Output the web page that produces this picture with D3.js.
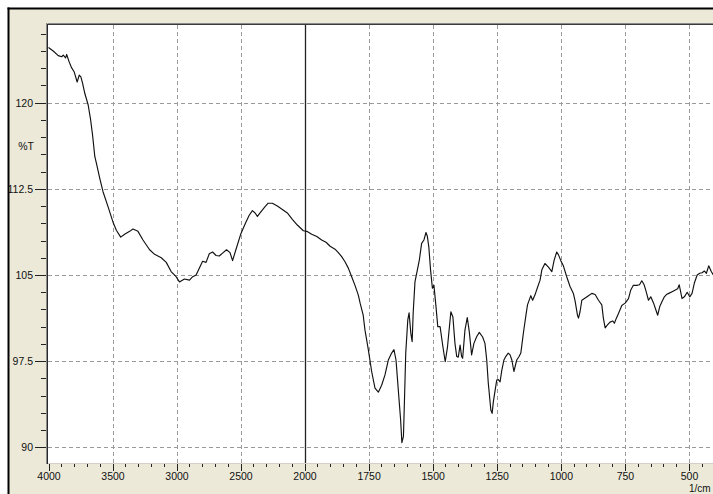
<!DOCTYPE html>
<html>
<head>
<meta charset="utf-8">
<script src="https://cdn.jsdelivr.net/npm/d3@7"></script>
<style>
  html, body { margin: 0; padding: 0; background: #ffffff; }
  svg { display: block; }
  .tick text { font-family: "Liberation Sans", Arial, sans-serif; font-size: 10.5px; fill: #111; }
</style>
</head>
<body>
<svg id="chart" width="713" height="494"></svg>
<script>
// IR spectrum: wavenumber (1/cm) and transmittance (%T)
const wavenumbers = [
  4000, 3963, 3924, 3897, 3885, 3866, 3858, 3840, 3820, 3800, 3776, 3760, 3747, 3734, 3716,
  3690, 3672, 3656, 3638, 3625, 3599, 3574, 3535, 3496, 3470, 3436, 3405, 3366, 3340, 3301,
  3262, 3210, 3171, 3119, 3080, 3042, 3003, 2977, 2938, 2899, 2873, 2847, 2821, 2796, 2769,
  2744, 2718, 2691, 2666, 2640, 2609, 2582, 2562, 2536, 2497, 2458, 2432, 2407, 2386, 2368,
  2341, 2308, 2284, 2251, 2212, 2173, 2134, 2095, 2056, 2009, 1991, 1972, 1952, 1933, 1916,
  1900, 1881, 1868, 1855, 1842, 1829, 1816, 1803, 1790, 1783, 1771, 1764, 1751, 1738, 1725,
  1712, 1699, 1686, 1673, 1660, 1651, 1643, 1638, 1632, 1625, 1620, 1614, 1610, 1605, 1597,
  1592, 1585, 1580, 1576, 1569, 1560, 1552, 1543, 1534, 1526, 1521, 1515, 1508, 1501, 1495,
  1487, 1480, 1471, 1460, 1451, 1442, 1429, 1421, 1413, 1406, 1400, 1393, 1387, 1383, 1374,
  1365, 1357, 1348, 1339, 1328, 1318, 1305, 1296, 1289, 1283, 1273, 1268, 1263, 1256, 1250,
  1244, 1237, 1231, 1222, 1215, 1205, 1198, 1191, 1183, 1172, 1163, 1156, 1146, 1136, 1130,
  1117, 1110, 1101, 1092, 1081, 1074, 1062, 1049, 1035, 1026, 1016, 1009, 1000, 990, 977,
  964, 951, 944, 935, 931, 925, 918, 905, 892, 879, 866, 853, 840, 834, 827,
  818, 808, 797, 791, 784, 775, 762, 749, 736, 727, 717, 704, 693, 684, 675,
  667, 658, 649, 638, 629, 622, 614, 605, 596, 588, 579, 566, 553, 544, 538,
  533, 527, 518, 507, 497, 488, 479, 468, 458, 449, 440, 432, 423, 413, 405
];
const transmittance = [
  124.8, 124.5, 124.1, 124.0, 124.15, 123.9, 124.2, 123.6, 123.05, 122.7, 121.8, 122.4, 122.25, 121.7, 120.8,
  119.8, 118.6, 117.2, 115.3, 114.7, 113.4, 112.25, 110.95, 109.6, 108.9, 108.3, 108.55, 108.8, 109.0, 108.8,
  108.05, 107.2, 106.8, 106.5, 106.1, 105.3, 104.85, 104.4, 104.65, 104.55, 104.85, 105.0, 105.6, 106.2, 106.1,
  106.85, 107.0, 106.7, 106.65, 106.9, 107.2, 106.95, 106.25, 107.2, 108.6, 109.6, 110.2, 110.6, 110.4, 110.1,
  110.5, 110.95, 111.25, 111.25, 111.0, 110.7, 110.4, 109.85, 109.35, 108.85, 108.8, 108.55, 108.35, 108.05, 107.85,
  107.5, 107.25, 106.95, 106.6, 106.15, 105.6, 104.85, 104.1, 103.25, 102.55, 101.5, 100.2, 98.5, 96.6, 95.15,
  94.8, 95.4, 96.3, 97.6, 98.2, 98.5, 97.6, 96.15, 94.4, 92.4, 90.4, 90.95, 94.1, 98.2, 101.1,
  101.7, 99.9, 99.2, 101.7, 104.4, 105.4, 106.3, 107.75, 108.05, 108.7, 108.4, 107.45, 105.4, 103.85, 104.1,
  102.25, 100.5, 100.5, 98.75, 97.45, 98.75, 101.8, 101.35, 99.05, 97.9, 97.85, 98.9, 97.9, 97.75, 100.2,
  101.3, 100.05, 98.05, 99.05, 99.65, 100.0, 99.6, 99.05, 97.6, 95.6, 93.25, 92.95, 94.0, 95.0, 95.85,
  95.9, 95.7, 96.6, 97.6, 97.9, 98.2, 98.05, 97.6, 96.6, 97.6, 97.9, 98.2, 99.95, 101.5, 102.4,
  103.2, 102.8, 103.25, 103.85, 104.55, 105.45, 106.0, 105.7, 105.3, 106.3, 107.0, 106.75, 106.25, 105.8, 104.85,
  104.0, 103.4, 102.7, 101.5, 101.25, 101.8, 102.8, 103.0, 103.2, 103.4, 103.3, 102.8, 102.4, 101.25, 100.4,
  100.65, 100.9, 101.0, 100.8, 101.2, 101.65, 102.35, 102.55, 102.95, 103.7, 104.1, 104.1, 104.15, 104.5, 104.15,
  103.55, 102.8, 103.1, 102.55, 101.95, 101.5, 102.25, 102.7, 103.1, 103.3, 103.4, 103.55, 103.7, 103.8, 104.15,
  103.6, 102.95, 103.1, 103.5, 103.1, 103.4, 104.3, 105.0, 105.15, 105.2, 105.35, 105.15, 105.8, 105.3, 105.0
];

// Axis ticks
const xTickValues = [4000, 3500, 3000, 2500, 2000, 1750, 1500, 1250, 1000, 750, 500];
const yTickValues = [120, 112.5, 105, 97.5, 90];
const yTickLabels = ["120", "112.5", "105", "97.5", "90"];
const xUnitLabel = "1/cm";
const yUnitLabel = "%T";

const svg = d3.select("#chart");
const W = 713, H = 494;
const plot = { left: 48, top: 25, right: 713, bottom: 463 };

// Wavenumber axis is expanded 2x below 2000 1/cm
const x = d3.scaleLinear()
  .domain([4000, 2000, 400])
  .range([48.5, 304.5, 714.6]);
const y = d3.scaleLinear()
  .domain([90, 120])
  .range([447.3, 102.7]);

// Window frame
svg.append("rect").attr("x", 8).attr("y", 8).attr("width", W).attr("height", H)
  .attr("fill", "#ece9d8");
svg.append("line").attr("x1", 7.5).attr("x2", W).attr("y1", 8.5).attr("y2", 8.5)
  .attr("stroke", "#000").attr("stroke-width", 2);

// Plot area
svg.append("rect")
  .attr("x", plot.left).attr("y", plot.top)
  .attr("width", plot.right - plot.left).attr("height", plot.bottom - plot.top)
  .attr("fill", "#ffffff");

// Dashed grid
const grid = svg.append("g").attr("stroke", "#9a9a9a").attr("stroke-width", 1)
  .attr("stroke-dasharray", "4,3").attr("shape-rendering", "crispEdges");
grid.selectAll("line.h").data(yTickValues).join("line").attr("class", "h")
  .attr("x1", plot.left).attr("x2", plot.right)
  .attr("y1", d => Math.round(y(d)) + 0.5).attr("y2", d => Math.round(y(d)) + 0.5);
grid.selectAll("line.v").data(xTickValues.filter(d => d !== 4000 && d !== 2000)).join("line").attr("class", "v")
  .attr("y1", plot.top).attr("y2", plot.bottom)
  .attr("x1", d => Math.round(x(d)) + 0.5).attr("x2", d => Math.round(x(d)) + 0.5);

// Scale-change marker at 2000 1/cm
svg.append("line")
  .attr("x1", Math.round(x(2000)) + 0.5).attr("x2", Math.round(x(2000)) + 0.5)
  .attr("y1", plot.top).attr("y2", plot.bottom)
  .attr("stroke", "#222").attr("stroke-width", 1.3);

// Spectrum trace
const clipId = "plot-clip";
svg.append("clipPath").attr("id", clipId).append("rect")
  .attr("x", plot.left).attr("y", plot.top)
  .attr("width", plot.right - plot.left).attr("height", plot.bottom - plot.top);
const points = wavenumbers.map((w, i) => [w, transmittance[i]]);
svg.append("path")
  .datum(points)
  .attr("clip-path", `url(#${clipId})`)
  .attr("fill", "none")
  .attr("stroke", "#111")
  .attr("stroke-width", 1.15)
  .attr("stroke-linejoin", "round")
  .attr("d", d3.line().x(d => x(d[0])).y(d => y(d[1])));

// Sunken plot border
svg.append("line").attr("x1", plot.left - 0.5).attr("x2", plot.right).attr("y1", plot.top - 1.5).attr("y2", plot.top - 1.5)
  .attr("stroke", "#8a8a8a").attr("stroke-width", 1);
svg.append("line").attr("x1", plot.left - 0.5).attr("x2", plot.right).attr("y1", plot.top - 0.5).attr("y2", plot.top - 0.5)
  .attr("stroke", "#3a3a3a").attr("stroke-width", 1);
svg.append("line").attr("x1", plot.left - 1.5).attr("x2", plot.left - 1.5).attr("y1", plot.top - 2).attr("y2", plot.bottom + 1)
  .attr("stroke", "#8a8a8a").attr("stroke-width", 1);
svg.append("line").attr("x1", plot.left - 0.5).attr("x2", plot.left - 0.5).attr("y1", plot.top - 1).attr("y2", plot.bottom + 1)
  .attr("stroke", "#2a2a2a").attr("stroke-width", 1);
svg.append("line").attr("x1", plot.left).attr("x2", plot.right).attr("y1", plot.bottom + 0.5).attr("y2", plot.bottom + 0.5)
  .attr("stroke", "#d4d0c8").attr("stroke-width", 1);

// Bottom axis: minor ticks every 100 (above 2000) and 50 (below 2000)
const xMinor = d3.range(4000, 2000, -100).concat(d3.range(2000, 399, -50))
  .filter(d => !xTickValues.includes(d));
const xMinorAxis = d3.axisBottom(x).tickValues(xMinor).tickSize(3).tickSizeOuter(0).tickFormat("");
const xMajorAxis = d3.axisBottom(x).tickValues(xTickValues).tickSize(7).tickSizeOuter(0).tickPadding(2)
  .tickFormat(d3.format("d"));
const gxMinor = svg.append("g").attr("transform", `translate(0,${plot.bottom + 1})`).call(xMinorAxis);
const gxMajor = svg.append("g").attr("transform", `translate(0,${plot.bottom + 1})`).call(xMajorAxis);
[gxMinor, gxMajor].forEach(g => {
  g.select(".domain").remove();
  g.selectAll(".tick line").attr("stroke", "#222").attr("shape-rendering", "crispEdges");
});

// Left axis: minor ticks every 1.5 %T
const yMinor = d3.range(90, 126.01, 1.5).filter(d => !yTickValues.some(t => Math.abs(t - d) < 1e-6));
const yMinorAxis = d3.axisLeft(y).tickValues(yMinor).tickSize(5).tickSizeOuter(0).tickFormat("");
const yMajorAxis = d3.axisLeft(y).tickValues(yTickValues).tickSize(11).tickSizeOuter(0).tickPadding(2)
  .tickFormat((d, i) => yTickLabels[i]);
const gyMinor = svg.append("g").attr("transform", `translate(${plot.left - 2},0)`).call(yMinorAxis);
const gyMajor = svg.append("g").attr("transform", `translate(${plot.left - 2},0)`).call(yMajorAxis);
[gyMinor, gyMajor].forEach(g => {
  g.select(".domain").remove();
  g.selectAll(".tick line").attr("stroke", "#222").attr("shape-rendering", "crispEdges");
});

// Unit labels
svg.append("text").attr("x", 34).attr("y", 146).attr("dy", "0.35em")
  .attr("text-anchor", "end")
  .style("font-family", "Liberation Sans, Arial, sans-serif").style("font-size", "10.5px")
  .attr("fill", "#111").text(yUnitLabel);
svg.append("text").attr("x", 689).attr("y", 492)
  .style("font-family", "Liberation Sans, Arial, sans-serif").style("font-size", "10px")
  .attr("fill", "#111").text(xUnitLabel);

// Frame line on the left, drawn over the labels
svg.append("line").attr("x1", 8.5).attr("x2", 8.5).attr("y1", 7.5).attr("y2", H)
  .attr("stroke", "#000").attr("stroke-width", 2);
</script>
</body>
</html>
